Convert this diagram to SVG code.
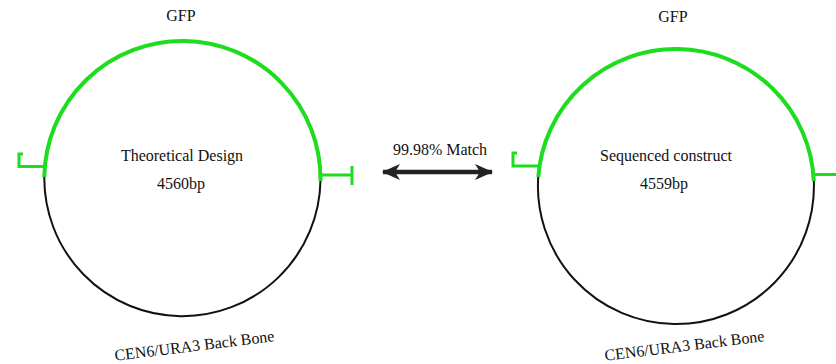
<svg xmlns="http://www.w3.org/2000/svg" width="836" height="364" viewBox="0 0 836 364">
<style>
  text { font-family: "Liberation Serif", "Times New Roman", serif; font-size: 16px; fill: #111; }
  .mid { text-anchor: middle; }
  .gfp { fill: none; stroke: #1edc1e; stroke-width: 4; }
  .mark { fill: none; stroke: #1edc1e; stroke-width: 3; }
  .bb { fill: none; stroke: #111; stroke-width: 2; }
  .arrow { stroke: #222; stroke-width: 4.5; fill: none; }
</style>
<defs>
  <marker id="head" markerUnits="userSpaceOnUse" markerWidth="18" markerHeight="18" viewBox="0 0 18 18" refX="17" refY="9" orient="auto-start-reverse">
    <path d="M0,1 L18,9 L0,17 L5,9 z" fill="#222"/>
  </marker>
</defs>
<rect width="836" height="364" fill="#fff"/>

<g id="theoretical">
  <path class="bb" d="M320.5,180 A138,138 0 1 1 44.3,176"/>
  <path class="gfp" d="M44.3,177 A138,138 0 0 1 320.5,181"/>
  <path class="mark" d="M44.5,166.5 H19 V154 H23"/>
  <path class="mark" d="M320,175 H352 M352,166 V185"/>
  <text class="mid" x="181" y="21">GFP</text>
  <text class="mid" x="182" y="161">Theoretical Design</text>
  <text class="mid" x="181" y="189">4560bp</text>
  <text class="mid" transform="rotate(-7 195 351)" x="195" y="351">CEN6/URA3 Back Bone</text>
</g>

<g id="sequenced">
  <path class="bb" d="M813.8,180 A138,138 0 1 1 538.3,176"/>
  <path class="gfp" d="M538.3,177 A138,138 0 0 1 813.8,181"/>
  <path class="mark" d="M538.5,166 H513 V153 H517"/>
  <path class="mark" d="M813.5,174.5 H840"/>
  <text class="mid" x="673" y="22">GFP</text>
  <text class="mid" x="666" y="161">Sequenced construct</text>
  <text class="mid" x="664" y="189">4559bp</text>
  <text class="mid" transform="rotate(-7 685 351)" x="685" y="351">CEN6/URA3 Back Bone</text>
</g>

<g id="connectors">
  <line class="arrow" x1="383" y1="172" x2="492" y2="172" marker-start="url(#head)" marker-end="url(#head)"/>
  <text class="mid" x="440" y="155">99.98% Match</text>
</g>
</svg>
